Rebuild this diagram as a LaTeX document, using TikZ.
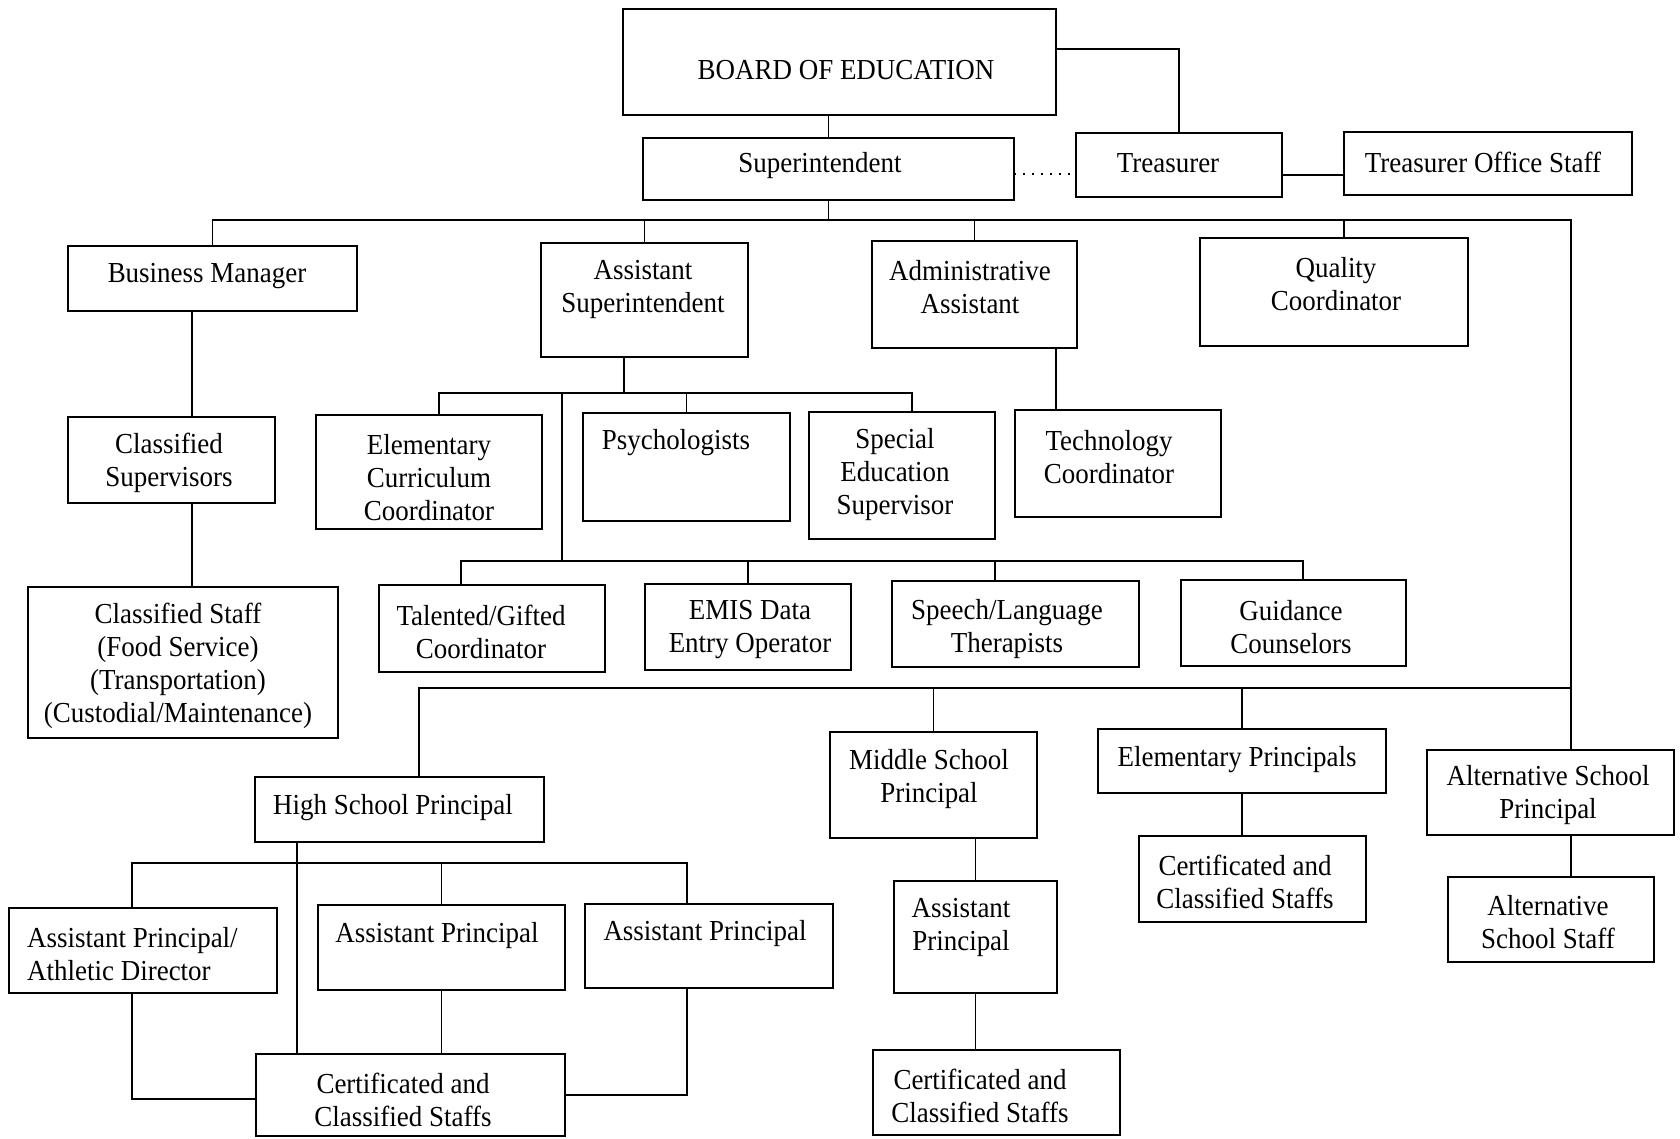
\documentclass[tikz,border=0pt]{standalone}
\usepackage{fontspec}
\setmainfont{Liberation Serif}[FakeStretch=0.93]
\usetikzlibrary{calc}
\tikzset{
  ubox/.style={draw=black, line width=2.2pt, rectangle, inner sep=0pt, outer sep=0pt},
  utext/.style={font=\fontsize{29}{33}\selectfont, align=center, inner sep=0pt, text=black, yshift=-3pt},
  link/.style={draw=black, line width=1.6pt},
  dotlink/.style={draw=black, line width=1.8pt, dash pattern=on 2pt off 7pt}
}
% box from (x1,y1) to (x2,y2), y measured downwards
\newcommand\unitbox[5]{\node[ubox, minimum width={(#4-#2)*1pt}, minimum height={(#5-#3)*1pt}] (#1) at ({(#2+#4)/2},{(#3+#5)/2}) {};}
\begin{document}
\begin{tikzpicture}[x=1pt,y=-1pt]
\fill[white] (0,0) rectangle (1680,1138);
\useasboundingbox (0,0) rectangle (1680,1138);

% ---------- boxes ----------
\unitbox{board}{623}{9}{1056}{115}
\unitbox{super}{643}{138}{1014}{200}
\unitbox{treas}{1076}{133}{1282}{197}
\unitbox{tos}{1344}{132}{1632}{195}
\unitbox{bm}{68}{246}{357}{311}
\unitbox{asup}{541}{243}{748}{357}
\unitbox{aa}{872}{241}{1077}{348}
\unitbox{qc}{1200}{238}{1468}{346}
\unitbox{cs}{68}{417}{275}{503}
\unitbox{cstaff}{28}{587}{338}{738}
\unitbox{ecc}{316}{415}{542}{529}
\unitbox{psy}{583}{413}{790}{521}
\unitbox{sped}{809}{412}{995}{539}
\unitbox{tech}{1015}{410}{1221}{517}
\unitbox{tg}{379}{585}{605}{672}
\unitbox{emis}{645}{584}{851}{670}
\unitbox{slt}{892}{581}{1139}{667}
\unitbox{gc}{1181}{580}{1406}{666}
\unitbox{hsp}{255}{777}{544}{842}
\unitbox{msp}{830}{732}{1037}{838}
\unitbox{ep}{1098}{729}{1386}{793}
\unitbox{asp}{1427}{750}{1674}{835}
\unitbox{ecs}{1139}{836}{1366}{922}
\unitbox{ass}{1448}{877}{1654}{962}
\unitbox{msap}{894}{881}{1057}{993}
\unitbox{mscs}{873}{1050}{1120}{1135}
\unitbox{apad}{9}{908}{277}{993}
\unitbox{ap1}{318}{905}{565}{990}
\unitbox{ap2}{585}{904}{833}{988}
\unitbox{hscs}{256}{1054}{565}{1136}

% ---------- labels ----------
\node[utext] (board-t) at (846,67) {BOARD OF EDUCATION};
\node[utext] (super-t) at (820,163) {Superintendent};
\node[utext] (treas-t) at (1168,160) {Treasurer};
\node[utext] (tos-t) at (1483,159) {Treasurer Office Staff};
\node[utext] (bm-t) at (207,273) {Business Manager};
\node[utext] (asup-t) at (643,286) {Assistant\\Superintendent};
\node[utext] (aa-t) at (970,284) {Administrative\\Assistant};
\node[utext] (qc-t) at (1336,281) {Quality\\Coordinator};
\node[utext] (cs-t) at (169,460) {Classified\\Supervisors};
\node[utext] (cstaff-t) at (178,663) {Classified Staff\\(Food Service)\\(Transportation)\\(Custodial/Maintenance)};
\node[utext] (ecc-t) at (429,475) {Elementary\\Curriculum\\Coordinator};
\node[utext] (psy-t) at (676,440) {Psychologists};
\node[utext] (sped-t) at (895,472) {Special\\Education\\Supervisor};
\node[utext] (tech-t) at (1109,454) {Technology\\Coordinator};
\node[utext] (tg-t) at (481,629) {Talented/Gifted\\Coordinator};
\node[utext] (emis-t) at (750,627) {EMIS Data\\Entry Operator};
\node[utext] (slt-t) at (1007,626) {Speech/Language\\Therapists};
\node[utext] (gc-t) at (1291,624) {Guidance\\Counselors};
\node[utext] (hsp-t) at (393,805) {High School Principal};
\node[utext] (msp-t) at (929,776) {Middle School\\Principal};
\node[utext] (ep-t) at (1237,757) {Elementary Principals};
\node[utext] (asp-t) at (1548,792) {Alternative School\\Principal};
\node[utext] (ecs-t) at (1245,879) {Certificated and\\Classified Staffs};
\node[utext] (ass-t) at (1548,919) {Alternative\\School Staff};
\node[utext] (msap-t) at (961,924) {Assistant\\Principal};
\node[utext] (mscs-t) at (980,1093) {Certificated and\\Classified Staffs};
\node[utext, align=left, anchor=west] (apad-t) at (27,951) {Assistant Principal/\\Athletic Director};
\node[utext] (ap1-t) at (437,933) {Assistant Principal};
\node[utext] (ap2-t) at (705,931) {Assistant Principal};
\node[utext] (hscs-t) at (403,1097) {Certificated and\\Classified Staffs};

% ---------- reference positions for off-centre lines ----------
\coordinate (xBM) at (192,0);
\coordinate (xAS) at (624,0);
\coordinate (xQC) at (1344,0);
\coordinate (xR) at (1571,0);
\coordinate (xTC) at (1056,0);
\coordinate (xHP) at (419,0);
\coordinate (xHS) at (297,0);
\coordinate (xAD) at (132,0);
\coordinate (xA2) at (687,0);
\coordinate (xEC) at (439,0);
\coordinate (xSE) at (912,0);
\coordinate (xTG) at (461,0);
\coordinate (xSL) at (995,0);
\coordinate (xGC) at (1303,0);
\coordinate (xMid) at (562,0);
\coordinate (yBd) at (0,49);
\coordinate (yDot) at (0,174);
\coordinate (yTr) at (0,175);
\coordinate (yTop) at (0,220);
\coordinate (yAS) at (0,393);
\coordinate (yLow) at (0,561);
\coordinate (yPr) at (0,688);
\coordinate (yHS) at (0,863);
\coordinate (yAD) at (0,1099);

% ---------- connectors ----------
\draw[link] (super.north) -- (super.north |- board.south);
\draw[link] (board.east |- yBd) -| (treas.north);
\draw[dotlink] (super.east |- yDot) -- (treas.west |- yDot);
\draw[link] (treas.east |- yTr) -- (tos.west |- yTr);

\draw[link] (super.south) -- (super.south |- yTop);
\draw[link] (bm.north) |- (xR |- yTop) -- (xR |- asp.north);
\draw[link] (asup.north) -- (asup.north |- yTop);
\draw[link] (aa.north) -- (aa.north |- yTop);
\draw[link] (qc.north -| xQC) -- (xQC |- yTop);

\draw[link] (bm.south -| xBM) -- (cs.north -| xBM);
\draw[link] (cs.south -| xBM) -- (cstaff.north -| xBM);

\draw[link] (asup.south -| xAS) -- (xAS |- yAS);
\draw[link] (ecc.north -| xEC) |- (xSE |- yAS) -- (sped.north -| xSE);
\draw[link] (psy.north) -- (psy.north |- yAS);
\draw[link] (xMid |- yAS) -- (xMid |- yLow);
\draw[link] (tg.north -| xTG) |- (xGC |- yLow) -- (gc.north -| xGC);
\draw[link] (emis.north) -- (emis.north |- yLow);
\draw[link] (slt.north -| xSL) -- (xSL |- yLow);

\draw[link] (aa.south -| xTC) -- (tech.north -| xTC);

\draw[link] (hsp.north -| xHP) |- (xR |- yPr);
\draw[link] (msp.north) -- (msp.north |- yPr);
\draw[link] (ep.north) -- (ep.north |- yPr);
\draw[link] (asp.south -| xR) -- (ass.north -| xR);
\draw[link] (ep.south) -- (ep.south |- ecs.north);
\draw[link] (msap.north) -- (msap.north |- msp.south);
\draw[link] (msap.south) -- (msap.south |- mscs.north);

\draw[link] (hsp.south -| xHS) -- (hscs.north -| xHS);
\draw[link] (apad.north -| xAD) |- (xA2 |- yHS) -- (ap2.north -| xA2);
\draw[link] (ap1.north) -- (ap1.north |- yHS);
\draw[link] (ap1.south) -- (ap1.south |- hscs.north);
\draw[link] (apad.south -| xAD) |- (hscs.west |- yAD);
\draw[link] (ap2.south -| xA2) |- (hscs.east);
\end{tikzpicture}
\end{document}
